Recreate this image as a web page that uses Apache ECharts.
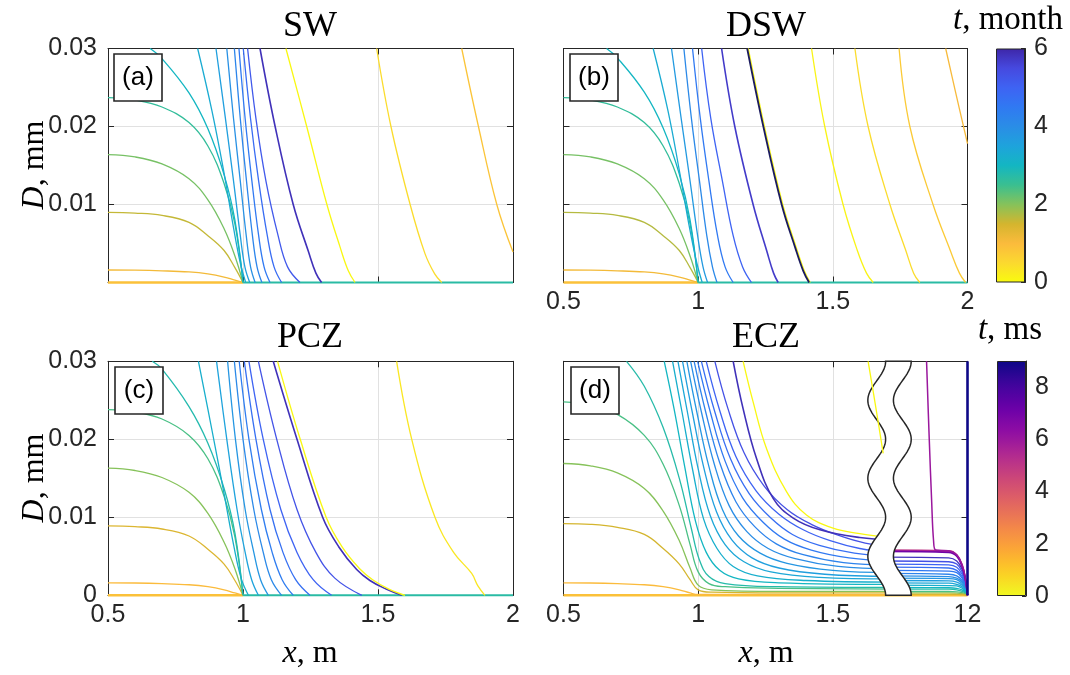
<!DOCTYPE html>
<html><head><meta charset="utf-8">
<script src="https://cdn.jsdelivr.net/npm/echarts@6/dist/echarts.min.js"></script>
<style>html,body{margin:0;padding:0;background:#fff}#c{width:1070px;height:675px}</style>
</head><body><div id="c"></div>
<script>
// ================= DATA =================
const xTicks = [0.5, 1, 1.5, 2];
const xTickLabels = ['0.5', '1', '1.5', '2'];
const xTickLabelsECZ = ['0.5', '1', '1.5', '12'];
const yTicks = [0, 0.01, 0.02, 0.03];
const monthRange = [0, 6];
const msRange = [0, 9];
const panelTitles = ['SW', 'DSW', 'PCZ', 'ECZ'];
const panelTags = ['(a)', '(b)', '(c)', '(d)'];

// bottom (D = 0) lines: [x, D]
const baseLeft = [[0.5, 0], [1, 0]];
const baseRight = [[1, 0], [2, 0]];
const baseTimes = [0.9, 2.7];

// ---- (a) SW : time in months, curves [x (m), D (mm)] ----
const swTimes = [1.1, 1.6, 2.1, 2.6, 3.0, 3.3, 3.6, 3.9, 4.2, 4.5, 4.8, 5.2, 5.85, 0.05, 0.45, 0.85];
const swCurves = [
  [[0.5,0.0016],[0.6,0.00158],[0.7,0.0015],[0.8,0.00135],[0.87,0.0011],[0.93,0.0007],[0.97,0.0003],[1.0,0]],
  [[0.5,0.009],[0.6,0.0089],[0.7,0.0086],[0.8,0.0077],[0.87,0.006],[0.93,0.0041],[0.97,0.0019],[1.0,0]],
  [[0.5,0.0164],[0.6,0.0161],[0.7,0.0152],[0.8,0.0133],[0.87,0.0106],[0.93,0.0069],[0.97,0.0034],[1.0,0]],
  [[0.5,0.0237],[0.6,0.0234],[0.7,0.0225],[0.8,0.0205],[0.87,0.0175],[0.93,0.0127],[0.97,0.0075],[1.0,0]],
  [[0.656,0.03],[0.7,0.0287],[0.8,0.0243],[0.87,0.0197],[0.93,0.0138],[0.97,0.008],[1.0,0]],
  [[0.832,0.03],[0.885,0.022],[0.93,0.014],[0.965,0.007],[0.99,0.0025],[1.01,0]],
  [[0.90,0.03],[0.935,0.021],[0.965,0.013],[0.99,0.006],[1.007,0.002],[1.025,0]],
  [[0.94,0.03],[0.965,0.021],[0.99,0.013],[1.012,0.006],[1.028,0.002],[1.045,0]],
  [[0.968,0.03],[0.99,0.021],[1.013,0.013],[1.035,0.006],[1.052,0.002],[1.07,0]],
  [[0.985,0.03],[1.008,0.021],[1.033,0.013],[1.058,0.006],[1.078,0.002],[1.10,0]],
  [[1.001,0.03],[1.028,0.021],[1.058,0.013],[1.09,0.006],[1.115,0.002],[1.143,0]],
  [[1.017,0.03],[1.048,0.021],[1.085,0.013],[1.13,0.006],[1.165,0.002],[1.211,0]],
  [[1.063,0.03],[1.119,0.02],[1.186,0.01],[1.242,0.004],[1.27,0.0012],[1.291,0]],
  [[1.159,0.03],[1.236,0.02],[1.31,0.0101],[1.359,0.0046],[1.39,0.0015],[1.415,0]],
  [[1.495,0.03],[1.548,0.02],[1.619,0.01],[1.674,0.0037],[1.71,0.0011],[1.736,0]],
  [[1.81,0.03],[1.872,0.02],[1.94,0.01],[2.0,0.0039]]
];

// ---- (b) DSW ----
const dswTimes = [1.1, 1.7, 2.1, 2.6, 3.0, 3.3, 3.7, 4.1, 4.5, 5.0, 5.7, 0.05, 0.1, 0.45, 0.75, 1.05];
const dswCurves = [
  [[0.5,0.0016],[0.6,0.00158],[0.7,0.0015],[0.8,0.00135],[0.87,0.0011],[0.93,0.0007],[0.97,0.0003],[1.0,0]],
  [[0.5,0.009],[0.6,0.0089],[0.7,0.0086],[0.8,0.0077],[0.87,0.006],[0.93,0.0041],[0.97,0.0019],[1.0,0]],
  [[0.5,0.0164],[0.6,0.0161],[0.7,0.0152],[0.8,0.0133],[0.87,0.0106],[0.93,0.0069],[0.97,0.0034],[1.0,0]],
  [[0.5,0.0237],[0.6,0.0234],[0.7,0.0225],[0.8,0.0205],[0.87,0.0175],[0.93,0.0127],[0.97,0.0075],[1.0,0]],
  [[0.66,0.03],[0.7,0.0288],[0.8,0.0244],[0.87,0.0198],[0.93,0.0139],[0.97,0.008],[1.0,0]],
  [[0.833,0.03],[0.888,0.022],[0.932,0.014],[0.968,0.007],[0.995,0.0025],[1.015,0]],
  [[0.901,0.03],[0.937,0.021],[0.97,0.013],[0.998,0.006],[1.018,0.002],[1.035,0]],
  [[0.947,0.03],[0.975,0.021],[1.005,0.013],[1.032,0.006],[1.053,0.002],[1.07,0]],
  [[0.979,0.03],[1.008,0.021],[1.04,0.013],[1.072,0.006],[1.1,0.002],[1.13,0]],
  [[1.013,0.03],[1.047,0.021],[1.09,0.013],[1.13,0.006],[1.165,0.002],[1.198,0]],
  [[1.087,0.03],[1.136,0.02],[1.204,0.01],[1.255,0.004],[1.28,0.0012],[1.297,0]],
  [[1.186,0.03],[1.246,0.02],[1.314,0.01],[1.364,0.0045],[1.394,0.0015],[1.416,0]],
  [[1.421,0.03],[1.47,0.02],[1.538,0.01],[1.59,0.0042],[1.625,0.0012],[1.65,0]],
  [[1.582,0.03],[1.631,0.02],[1.712,0.01],[1.77,0.0042],[1.80,0.0012],[1.823,0]],
  [[1.746,0.03],[1.786,0.02],[1.872,0.01],[1.935,0.0042],[1.97,0.0012],[1.993,0]],
  [[1.919,0.03],[1.955,0.0245],[2.0,0.0178]]
];
// darkest (end of 6 months) DSW profile drawn over the yellow one
const dswLastCurve = [[1.182,0.03],[1.242,0.02],[1.31,0.01],[1.36,0.0045],[1.39,0.0015],[1.412,0]];

// ---- (c) PCZ ----
const pczTimes = [1.0, 1.4, 2.0, 2.4, 2.8, 3.2, 3.5, 3.8, 4.1, 4.4, 4.7, 5.0, 5.3, 5.85, 0.05, 0.3];
const pczCurves = [
  [[0.5,0.0016],[0.6,0.00158],[0.7,0.0015],[0.8,0.00135],[0.87,0.0011],[0.93,0.0007],[0.97,0.0003],[1.0,0]],
  [[0.5,0.0089],[0.6,0.0088],[0.7,0.0085],[0.8,0.0076],[0.87,0.0059],[0.93,0.004],[0.97,0.0019],[1.0,0]],
  [[0.5,0.0163],[0.6,0.016],[0.7,0.0151],[0.8,0.0132],[0.87,0.0105],[0.93,0.0068],[0.97,0.0034],[1.0,0]],
  [[0.5,0.0238],[0.6,0.0235],[0.7,0.0226],[0.8,0.0205],[0.87,0.0175],[0.93,0.0127],[0.97,0.0075],[1.0,0]],
  [[0.664,0.03],[0.7,0.029],[0.8,0.0242],[0.87,0.0195],[0.93,0.0137],[0.97,0.008],[1.0,0]],
  [[0.835,0.03],[0.886,0.021],[0.93,0.013],[0.965,0.0065],[0.993,0.0022],[1.02,0]],
  [[0.902,0.03],[0.94,0.02],[0.978,0.011],[1.008,0.0055],[1.032,0.002],[1.057,0]],
  [[0.943,0.03],[0.972,0.02],[1.008,0.011],[1.04,0.0055],[1.065,0.002],[1.094,0]],
  [[0.968,0.03],[1.0,0.02],[1.04,0.011],[1.075,0.0055],[1.105,0.002],[1.143,0]],
  [[0.986,0.03],[1.022,0.02],[1.068,0.011],[1.108,0.0055],[1.145,0.002],[1.186,0]],
  [[1.005,0.03],[1.048,0.02],[1.1,0.011],[1.148,0.0055],[1.195,0.002],[1.248,0]],
  [[1.022,0.03],[1.075,0.02],[1.14,0.011],[1.2,0.0055],[1.26,0.002],[1.328,0]],
  [[1.057,0.03],[1.125,0.02],[1.2,0.011],[1.27,0.0055],[1.34,0.0022],[1.44,0]],
  [[1.112,0.03],[1.2,0.02],[1.295,0.01],[1.355,0.0062],[1.421,0.0033],[1.47,0.0019],[1.53,0.0008],[1.588,0]],
  [[1.128,0.03],[1.212,0.02],[1.308,0.01],[1.367,0.0062],[1.432,0.0034],[1.48,0.002],[1.54,0.0008],[1.6,0]],
  [[1.569,0.03],[1.625,0.02],[1.711,0.01],[1.78,0.0055],[1.847,0.0028],[1.87,0.0012],[1.896,0]]
];

// ---- (d) ECZ, left of the axis break (months) ----
const eczTimes = [1.0, 1.5, 2.0, 2.4, 2.75, 3.0, 3.2, 3.4, 3.6, 3.8, 4.0, 4.25, 4.5, 4.75, 5.0, 5.35, 5.85, 0.05];
const eczCurves = [
  [[0.5,0.0016],[0.6,0.00158],[0.7,0.0015],[0.8,0.00135],[0.87,0.0011],[0.93,0.0007],[0.97,0.0003],[1.0,0.0001],[1.3,0.0001],[1.72,0.0001]],
  [[0.5,0.0092],[0.6,0.0091],[0.7,0.0087],[0.8,0.0078],[0.87,0.006],[0.93,0.004],[0.97,0.002],[1.0,0.0007],[1.05,0.0004],[1.3,0.0003],[1.72,0.0003]],
  [[0.5,0.0169],[0.6,0.0166],[0.7,0.0157],[0.8,0.0137],[0.87,0.0108],[0.93,0.007],[0.97,0.0035],[1.0,0.0013],[1.05,0.0007],[1.3,0.0005],[1.72,0.0005]],
  [[0.5,0.0248],[0.6,0.0244],[0.7,0.0232],[0.8,0.0205],[0.87,0.0168],[0.93,0.0115],[0.97,0.0065],[1.0,0.003],[1.04,0.0015],[1.1,0.0011],[1.3,0.0009],[1.72,0.0008]],
  [[0.734,0.03],[0.8,0.0268],[0.87,0.0215],[0.93,0.015],[0.975,0.0085],[1.005,0.0045],[1.04,0.0024],[1.1,0.0015],[1.3,0.0011],[1.72,0.001]],
  [[0.874,0.03],[0.91,0.024],[0.95,0.0165],[0.99,0.0095],[1.03,0.0055],[1.08,0.0032],[1.15,0.0021],[1.3,0.0016],[1.72,0.0014]],
  [[0.905,0.03],[0.94,0.0235],[0.98,0.016],[1.02,0.0098],[1.07,0.006],[1.13,0.0037],[1.22,0.0025],[1.4,0.0019],[1.72,0.0017]],
  [[0.925,0.03],[0.96,0.0235],[1.0,0.0162],[1.045,0.0102],[1.1,0.0065],[1.17,0.0043],[1.27,0.003],[1.45,0.0023],[1.72,0.0021]],
  [[0.942,0.03],[0.978,0.0235],[1.02,0.0165],[1.068,0.0107],[1.125,0.0071],[1.2,0.0048],[1.3,0.0035],[1.47,0.0027],[1.72,0.0024]],
  [[0.958,0.03],[0.995,0.0235],[1.04,0.0165],[1.09,0.011],[1.15,0.0076],[1.23,0.0054],[1.33,0.0041],[1.5,0.0032],[1.72,0.0029]],
  [[0.972,0.03],[1.012,0.0235],[1.06,0.0168],[1.115,0.0115],[1.18,0.0082],[1.26,0.006],[1.36,0.0047],[1.52,0.0037],[1.72,0.0034]],
  [[0.985,0.03],[1.028,0.0235],[1.08,0.017],[1.14,0.012],[1.21,0.0088],[1.29,0.0066],[1.39,0.0052],[1.54,0.0042],[1.72,0.0039]],
  [[0.998,0.03],[1.045,0.0235],[1.1,0.0172],[1.165,0.0125],[1.24,0.0094],[1.32,0.0072],[1.42,0.0058],[1.56,0.0048],[1.72,0.0044]],
  [[1.012,0.03],[1.062,0.0235],[1.12,0.0175],[1.19,0.013],[1.27,0.0099],[1.35,0.0078],[1.45,0.0064],[1.58,0.0054],[1.72,0.005]],
  [[1.03,0.03],[1.08,0.0237],[1.14,0.0178],[1.215,0.0134],[1.3,0.0104],[1.39,0.0084],[1.49,0.007],[1.6,0.006],[1.72,0.0055]],
  [[1.062,0.03],[1.11,0.024],[1.17,0.0183],[1.245,0.014],[1.33,0.011],[1.42,0.0091],[1.52,0.0077],[1.62,0.0067],[1.72,0.0063]],
  [[1.13,0.03],[1.167,0.0239],[1.217,0.0175],[1.279,0.0124],[1.353,0.0099],[1.452,0.0084],[1.6,0.0074],[1.72,0.0071]],
  [[1.167,0.03],[1.204,0.0248],[1.254,0.0188],[1.328,0.0133],[1.402,0.0103],[1.501,0.0086],[1.6,0.0079],[1.68,0.0075]]
];
// ECZ right of the break (months)
const eczRightTimes = [5.8, 5.35, 5.0, 4.75, 4.5, 4.25, 4.0, 3.8, 3.6, 3.4, 3.2, 3.0, 2.75, 2.4, 2.0, 1.5];
const eczRightCurves = [
  [[1.70,0.0049],[1.93,0.0048],[1.96,0.0044],[1.98,0.0033],[1.992,0.0019],[2,0]],
  [[1.70,0.0044],[1.93,0.0043],[1.96,0.0040],[1.98,0.0030],[1.992,0.0017],[2,0]],
  [[1.70,0.0040],[1.93,0.0039],[1.96,0.0036],[1.98,0.0027],[1.992,0.0015],[2,0]],
  [[1.70,0.0036],[1.93,0.0035],[1.96,0.0032],[1.98,0.0024],[1.992,0.0014],[2,0]],
  [[1.70,0.0032],[1.93,0.0031],[1.96,0.0029],[1.98,0.0022],[1.992,0.0012],[2,0]],
  [[1.70,0.0028],[1.93,0.0027],[1.96,0.0025],[1.98,0.0019],[1.992,0.0011],[2,0]],
  [[1.70,0.0025],[1.93,0.0024],[1.96,0.0022],[1.98,0.0017],[1.992,0.0009],[2,0]],
  [[1.70,0.0022],[1.93,0.00215],[1.96,0.0020],[1.98,0.0015],[1.992,0.0008],[2,0]],
  [[1.70,0.0019],[1.93,0.00185],[1.96,0.0017],[1.98,0.0013],[1.992,0.0007],[2,0]],
  [[1.70,0.0016],[1.93,0.00155],[1.96,0.0014],[1.98,0.0011],[1.992,0.0006],[2,0]],
  [[1.70,0.0013],[1.93,0.00125],[1.96,0.0012],[1.98,0.0009],[1.992,0.0005],[2,0]],
  [[1.70,0.0010],[1.93,0.00097],[1.96,0.0009],[1.98,0.0007],[1.992,0.0004],[2,0]],
  [[1.70,0.0008],[1.93,0.00078],[1.96,0.0007],[1.98,0.0005],[1.992,0.0003],[2,0]],
  [[1.70,0.0005],[1.93,0.00049],[1.96,0.00045],[1.98,0.00035],[1.992,0.0002],[2,0]],
  [[1.70,0.0003],[1.93,0.0003],[1.96,0.00027],[1.98,0.0002],[1.992,0.0001],[2,0]],
  [[1.70,0.00015],[1.93,0.00015],[1.96,0.00013],[1.98,0.0001],[1.992,0.00005],[2,0]]
];
// ECZ fast stage (time in ms)
const eczMsTimes = [5.0, 5.8, 7.0, 6.0];
const eczMsCurves = [
  [[1.70,0.0058],[1.93,0.0057],[1.96,0.0052],[1.98,0.0039],[1.992,0.0022],[2,0]],
  [[1.70,0.0057],[1.93,0.0056],[1.96,0.0051],[1.98,0.0038],[1.992,0.0021],[2,0]],
  [[1.70,0.0056],[1.93,0.0055],[1.96,0.0050],[1.98,0.0037],[1.992,0.0020],[2,0]],
  [[1.848,0.03],[1.858,0.02],[1.867,0.012],[1.874,0.007],[1.882,0.0058],[1.93,0.0057],[1.96,0.0052],[1.98,0.0039],[1.992,0.0022],[2,0]]
];
const eczEdgeTime = 9.0;
const eczEdgeLine = [[2,0.03],[2,0]];
// initial (t = 0) ECZ profile segment visible over the break
const eczTopYellowTime = 0.05;
const eczTopYellow = [[1.631,0.03],[1.66,0.024],[1.687,0.0182]];

// ================= STYLE / HELPERS =================
const monthStops = [[0,'#f9fb0e'],[0.5,'#fbd92f'],[1.0,'#fbbb3c'],[1.5,'#d4b52e'],[2.0,'#86c25a'],[2.5,'#3abf90'],[3.0,'#13b6c2'],[3.5,'#1ea3dc'],[4.0,'#2a8de6'],[4.5,'#3079f2'],[5.0,'#3e63f3'],[5.5,'#4649df'],[6.0,'#3e26a8']];
const msStops = [[0,'#f0f921'],[0.9,'#fcce25'],[1.8,'#fca636'],[2.7,'#f2844b'],[3.6,'#e16462'],[4.5,'#cc4778'],[5.4,'#b12a90'],[6.3,'#8f0da4'],[7.2,'#6a00a8'],[8.1,'#41049d'],[9,'#0d0887']];
const TXT = '#262626';
const SANS = '"Liberation Sans", Arial, sans-serif';
const SERIF = '"Liberation Serif", "Times New Roman", serif';

function hexToRgb(h){return [parseInt(h.slice(1,3),16),parseInt(h.slice(3,5),16),parseInt(h.slice(5,7),16)];}
function cmap(stops,t){
  if(t<=stops[0][0]) return stops[0][1];
  for(let i=1;i<stops.length;i++){
    if(t<=stops[i][0]){
      const a=stops[i-1], b=stops[i], f=(t-a[0])/(b[0]-a[0]);
      const ca=hexToRgb(a[1]), cb=hexToRgb(b[1]);
      return 'rgb('+ca.map((v,k)=>Math.round(v+(cb[k]-v)*f)).join(',')+')';
    }
  }
  return stops[stops.length-1][1];
}

const grids = [
  {left:108, top:48.5, width:405, height:234},
  {left:563.5, top:48.5, width:404, height:234},
  {left:108, top:361.3, width:405, height:234},
  {left:563.5, top:361.3, width:404, height:234},
  {left:996, top:48.5, width:29, height:234},
  {left:997, top:361, width:29, height:235}
];

const showX = [false, true, true, true];
const showY = [1, 0, 2, 0]; // 1: without zero, 2: with zero

const xAxes = [], yAxes = [];
for (let g=0; g<4; g++){
  const labels = g===3 ? xTickLabelsECZ : xTickLabels;
  const common = {type:'value', gridIndex:g, min:xTicks[0], max:xTicks[xTicks.length-1], interval:0.5,
    axisLine:{show:true,onZero:false,lineStyle:{color:TXT,width:1}},
    axisTick:{show:true,inside:true,length:6,lineStyle:{color:TXT}}};
  xAxes.push(Object.assign({}, common, {position:'bottom',
    axisLabel:{show:showX[g], fontSize:25, color:TXT, fontFamily:SANS, margin:7,
      formatter:v=>{const i=xTicks.findIndex(t=>Math.abs(t-v)<1e-9); return i>=0?labels[i]:'';}},
    splitLine:{show:true,lineStyle:{color:'#e1e1e1',width:1}}}));
  xAxes.push(Object.assign({}, common, {position:'top', axisLabel:{show:false}, splitLine:{show:false}}));
  const yc = {type:'value', gridIndex:g, min:yTicks[0], max:yTicks[yTicks.length-1], interval:0.01,
    axisLine:{show:true,onZero:false,lineStyle:{color:TXT,width:1}},
    axisTick:{show:true,inside:true,length:6,lineStyle:{color:TXT}}};
  const mode = showY[g];
  yAxes.push(Object.assign({}, yc, {position:'left',
    axisLabel:{show:mode>0, fontSize:25, color:TXT, fontFamily:SANS, margin:11,
      formatter:v=>Math.abs(v)<1e-9 ? (mode===2?'0':'') : v.toFixed(2)},
    splitLine:{show:true,lineStyle:{color:'#e1e1e1',width:1}}}));
  yAxes.push(Object.assign({}, yc, {position:'right', axisLabel:{show:false}, splitLine:{show:false}}));
}
// colorbar axes
[[monthRange,[0,2,4,6]],[msRange,[0,2,4,6,8]]].forEach((cfg,k)=>{
  const g = 4+k;
  xAxes.push({type:'category', gridIndex:g, data:['c'], show:false});
  xAxes.push({type:'category', gridIndex:g, data:['c'], show:false});
  yAxes.push({type:'value', gridIndex:g, min:cfg[0][0], max:cfg[0][1], interval:2, position:'right',
    axisLine:{show:true,lineStyle:{color:TXT,width:1}},
    axisTick:{show:true,inside:true,length:4,lineStyle:{color:TXT}},
    axisLabel:{show:true,fontSize:25,color:TXT,fontFamily:SANS,margin:9,
      formatter:v=>cfg[1].indexOf(v)>=0?String(v):''},
    splitLine:{show:false}});
  yAxes.push({type:'value', gridIndex:g, min:cfg[0][0], max:cfg[0][1], show:false});
});

const series = [];
function line(g, pts, color, width, z, smooth){
  series.push({type:'line', xAxisIndex:2*g, yAxisIndex:2*g, data:pts, symbol:'none', showSymbol:false,
    smooth: smooth===false ? false : 0.4, clip:false, silent:true, animation:false,
    lineStyle:{color:color, width:width}, z:z||2});
}
const panels = [[swTimes, swCurves],[dswTimes, dswCurves],[pczTimes, pczCurves],[eczTimes, eczCurves]];
panels.forEach((p,g)=>{
  if (g<3){
    line(g, baseLeft, cmap(monthStops, baseTimes[0]), 2.5);
    line(g, baseRight, cmap(monthStops, baseTimes[1]), 2);
  } else {
    line(g, [baseLeft[0], baseRight[1]], cmap(monthStops, baseTimes[0]), 2.5);
  }
  p[1].forEach((pts,i)=>{
    const t = p[0][i];
    line(g, pts, cmap(monthStops, t), t>5.5 ? 1.6 : 1.3);
  });
});
line(1, dswLastCurve, '#1b1b5e', 1.8, 3);
eczRightCurves.forEach((pts,i)=>line(3, pts, cmap(monthStops, eczRightTimes[i]), 1.3));
eczMsCurves.forEach((pts,i)=>line(3, pts, cmap(msStops, eczMsTimes[i]), 1.5, 3));
line(3, eczEdgeLine, cmap(msStops, eczEdgeTime), 2.6, 3, false);

// axis break band (decoration) for ECZ
const breakLeft = 1.663, breakRight = 1.758, breakAmp = 0.033, breakPeriod = 0.01;
series.push({type:'custom', xAxisIndex:6, yAxisIndex:6, data:[[breakLeft, 0]], silent:true, animation:false, z:5,
  renderItem:function(params, api){
    const N = 150, ymax = yTicks[yTicks.length-1], pts = [];
    for (let i=0;i<=N;i++){ const y=ymax*i/N; pts.push(api.coord([breakLeft+breakAmp*Math.cos(2*Math.PI*y/breakPeriod), y])); }
    for (let i=N;i>=0;i--){ const y=ymax*i/N; pts.push(api.coord([breakRight+breakAmp*Math.cos(2*Math.PI*y/breakPeriod), y])); }
    return {type:'polygon', shape:{points:pts}, style:{fill:'#fff', stroke:'#262626', lineWidth:1.5}};
  }});
line(3, eczTopYellow, cmap(monthStops, eczTopYellowTime), 1.3, 6);

// colorbars
function grad(stops, max){
  const s=[]; for(let i=0;i<=24;i++){ s.push({offset:i/24, color:cmap(stops, max*i/24)}); }
  return new echarts.graphic.LinearGradient(0,1,0,0,s);
}
series.push({type:'bar', xAxisIndex:8, yAxisIndex:8, data:[monthRange[1]], barWidth:'100%', silent:true, animation:false,
  itemStyle:{color:grad(monthStops, monthRange[1]), borderColor:TXT, borderWidth:1}});
series.push({type:'bar', xAxisIndex:10, yAxisIndex:10, data:[msRange[1]], barWidth:'100%', silent:true, animation:false,
  itemStyle:{color:grad(msStops, msRange[1]), borderColor:TXT, borderWidth:1}});

// texts
const graphics = [];
function txt(x,y,text,font,size,rot,rich){
  graphics.push({type:'text', x:x, y:y, rotation:rot||0, z:100, silent:true,
    style:{text:text, fontFamily:font, fontSize:size, fill:'#000', align:'center', verticalAlign:'middle',
      textAlign:'center', textVerticalAlign:'middle', rich:rich}});
}
const ital = size => ({i:{fontStyle:'italic', fontFamily:SERIF, fontSize:size, fill:'#000'}, n:{fontFamily:SERIF, fontSize:size, fill:'#000'}});
txt(310, 27, panelTitles[0], SERIF, 36);
txt(766, 27, panelTitles[1], SERIF, 36);
txt(310, 338, panelTitles[2], SERIF, 36);
txt(766, 338, panelTitles[3], SERIF, 36);
txt(35, 165, '{i|D}{n|, mm}', SERIF, 32, Math.PI/2, ital(32));
txt(35, 478, '{i|D}{n|, mm}', SERIF, 32, Math.PI/2, ital(32));
txt(310, 654, '{i|x}{n|, m}', SERIF, 32, 0, ital(32));
txt(766, 654, '{i|x}{n|, m}', SERIF, 32, 0, ital(32));
txt(1008, 20, '{i|t}{n|, month}', SERIF, 33, 0, ital(33));
txt(1010, 330, '{i|t}{n|, ms}', SERIF, 33, 0, ital(33));
const tagBoxes = [[114,54],[570,54],[115,367],[571,367]];
tagBoxes.forEach((b,i)=>{
  graphics.push({type:'rect', shape:{x:b[0], y:b[1], width:48, height:47}, z:99, silent:true,
    style:{fill:'#fff', stroke:'#262626', lineWidth:1.6}});
  txt(b[0]+24, b[1]+24, panelTags[i], SANS, 26);
});

const chart = echarts.init(document.getElementById('c'), null, {renderer:'canvas'});
chart.setOption({animation:false, backgroundColor:'#fff', grid:grids, xAxis:xAxes, yAxis:yAxes, series:series, graphic:graphics});
</script></body></html>
